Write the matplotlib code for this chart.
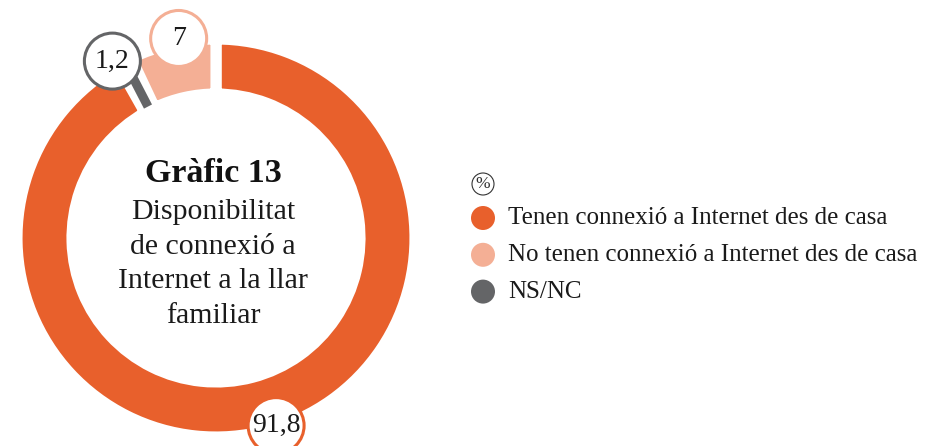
import numpy as np
import matplotlib.pyplot as plt
from matplotlib.patches import Circle

# data
categories = ["Tenen connexió a Internet des de casa", "NS/NC",
              "No tenen connexió a Internet des de casa"]
values = [91.8, 1.2, 7.0]
value_labels = ["91,8", "1,2", "7"]
colors = ["#E8602C", "#646567", "#F4AF95"]
legend_order = [0, 2, 1]
title = "Gràfic 13"
subtitle = ["Disponibilitat", "de connexió a", "Internet a la llar", "familiar"]

plt.rcParams['font.family'] = ['Liberation Serif', 'DejaVu Serif']

fig = plt.figure(figsize=(9.44, 4.46), dpi=100)
ax = fig.add_axes([0, 0, 1, 1])

cx, cy = 216, 208
R = 199
wedges, _ = ax.pie(values, colors=colors, center=(cx, cy), radius=R,
                   startangle=90, counterclock=False,
                   wedgeprops=dict(width=55, edgecolor="white", linewidth=8))
# NS/NC slice is drawn as a stick running up to its bubble
gw = wedges[1]
gw.set_visible(False)
mid = np.deg2rad((gw.theta1 + gw.theta2) / 2)
ax.plot([cx + 148 * np.cos(mid), cx + 195 * np.cos(mid)],
        [cy + 148 * np.sin(mid), cy + 195 * np.sin(mid)],
        color=colors[1], linewidth=6.5, solid_capstyle="butt", zorder=3)

ax.set_xlim(0, 944)
ax.set_ylim(0, 446)
ax.set_aspect("equal")
ax.axis("off")

# value bubbles at the middle of each slice
label_r = [197, 205, 203]
angle_adj = [3, 3, -2]
for w, lab, col, lr, adj in zip(wedges, value_labels, colors, label_r, angle_adj):
    ang = np.deg2rad((w.theta1 + w.theta2) / 2 + adj)
    x = cx + lr * np.cos(ang)
    y = cy + lr * np.sin(ang)
    ax.add_patch(Circle((x, y), 28, facecolor="white", edgecolor=col,
                        linewidth=2.2, zorder=5))
    ax.text(x, y, lab, ha="center", va="center", fontsize=20,
            color="#1a1a1a", zorder=6)

# centre text
ax.text(213, 272, title, ha="center", va="center", fontsize=24.5,
        fontweight="bold", color="#111111")
for i, line in enumerate(subtitle):
    ax.text(213, 234 - i * 34.7, line, ha="center", va="center",
            fontsize=21.5, color="#1a1a1a")

# legend
ax.add_patch(Circle((483, 446 - 184), 11, facecolor="white",
                    edgecolor="#333333", linewidth=0.8))
ax.text(483, 446 - 184, "%", ha="center", va="center", fontsize=12.5,
        color="#333333")
for row, idx in enumerate(legend_order):
    y = 446 - (218 + row * 36.8)
    ax.add_patch(Circle((483, y), 12, facecolor=colors[idx], edgecolor="none"))
    ax.text(508, y, categories[idx], ha="left", va="center", fontsize=18,
            color="#1a1a1a")

fig.savefig("out.png", dpi=100)
